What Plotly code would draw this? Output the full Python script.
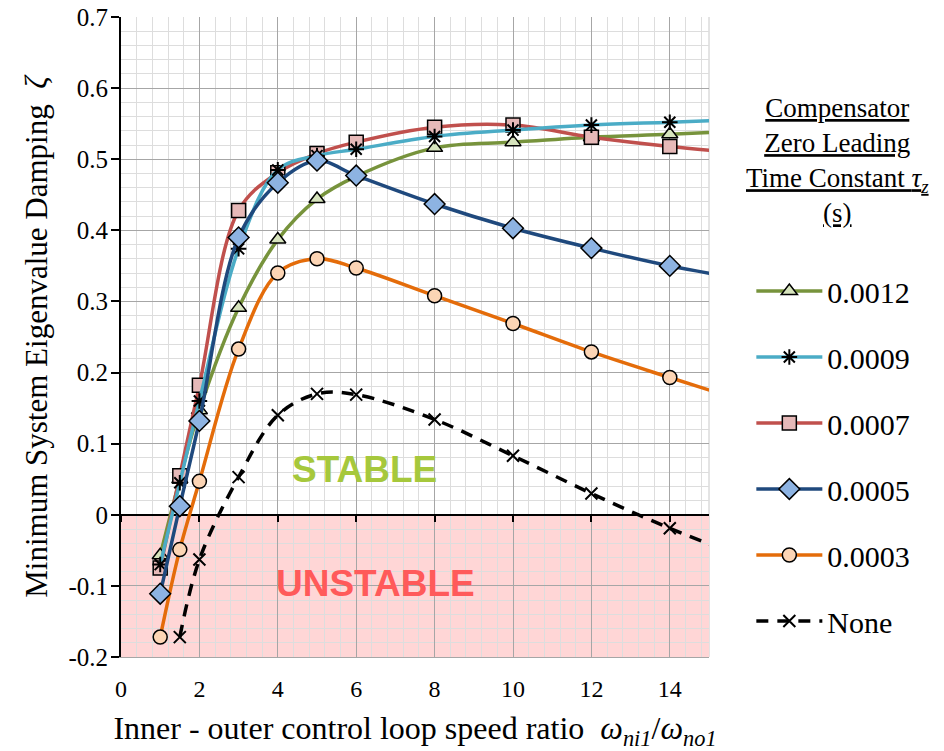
"""Minimum system damping vs inner/outer loop speed ratio, per compensator time constant."""

import plotly.graph_objects as go

# speed ratio samples (last point lies past the axis edge, only the line reaches it)
ratio = [1, 1.5, 2, 3, 4, 5, 6, 8, 10, 12, 14, 16]
ratio_none = [1.5, 2, 3, 4, 5, 6, 8, 10, 12, 14, 16]

zeta_0012 = [-0.057, 0.050, 0.147, 0.291, 0.387, 0.444, 0.476, 0.516, 0.524, 0.531, 0.535, 0.540]
zeta_0009 = [-0.070, 0.045, 0.160, 0.374, 0.485, 0.505, 0.514, 0.532, 0.541, 0.548, 0.552, 0.556]
zeta_0007 = [-0.075, 0.055, 0.182, 0.428, 0.481, 0.508, 0.524, 0.545, 0.548, 0.531, 0.518, 0.508]
zeta_0005 = [-0.111, 0.012, 0.132, 0.390, 0.467, 0.498, 0.477, 0.437, 0.403, 0.375, 0.350, 0.330]
zeta_0003 = [-0.172, -0.049, 0.047, 0.233, 0.340, 0.360, 0.347, 0.308, 0.269, 0.229, 0.193, 0.158]
zeta_none = [-0.172, -0.063, 0.053, 0.140, 0.170, 0.169, 0.134, 0.083, 0.030, -0.019, -0.062]

x_range = [0, 15]
y_range = [-0.2, 0.7]
x_ticks = [0, 2, 4, 6, 8, 10, 12, 14]
y_ticks = [0.7, 0.6, 0.5, 0.4, 0.3, 0.2, 0.1, 0, -0.1, -0.2]
y_ticktext = ["0.7", "0.6", "0.5", "0.4", "0.3", "0.2", "0.1", "0", "-0.1", "-0.2"]

SERIF = "Liberation Serif, Times New Roman, serif"
SANS = "Liberation Sans, Arial, sans-serif"

series = [
    # name, x, y, line colour, symbol, marker fill, marker size, dash, legend rank
    ("0.0003", ratio, zeta_0003, "#E46C0A", "circle", "#FCD5B5", 14, "solid", 5),
    ("0.0012", ratio, zeta_0012, "#77933C", "triangle-up", "#D7E4BD", 14, "solid", 1),
    ("0.0007", ratio, zeta_0007, "#C0504D", "square", "#E6B9B8", 14, "solid", 3),
    ("0.0009", ratio, zeta_0009, "#4BACC6", "asterisk-open", "black", 13, "solid", 2),
    ("0.0005", ratio, zeta_0005, "#1F497D", "diamond", "#8DB3E2", 16, "solid", 4),
    ("None", ratio_none, zeta_none, "black", "x-thin-open", "black", 12, "12px,9px", 6),
]

fig = go.Figure()

for name, xs, ys, color, symbol, fill, size, dash, rank in series:
    open_sym = symbol.endswith("-open")
    fig.add_trace(go.Scatter(
        x=xs,
        y=ys,
        mode="lines+markers",
        name=name,
        legendgroup=name,
        legendrank=rank,
        line=dict(color=color, width=3.5, shape="spline", dash=dash),
        marker=dict(
            symbol=symbol,
            size=size,
            color=fill,
            line=dict(color="black", width=2 if open_sym else 1.5),
        ),
    ))

# empty trace so the label axis (x2) is drawn
fig.add_trace(go.Scatter(x=[], y=[], xaxis="x2", showlegend=False, hoverinfo="skip"))

# unstable region
fig.add_shape(
    type="rect", xref="x", yref="y",
    x0=x_range[0], x1=x_range[1], y0=y_range[0], y1=0,
    fillcolor="#FFD6D6", line=dict(width=0), layer="below",
)
# right border of the plot area
fig.add_shape(
    type="line", xref="x domain", yref="y domain",
    x0=1, x1=1, y0=0, y1=1,
    line=dict(color="#C8C8C8", width=1), layer="below",
)

fig.add_annotation(x=6.2, y=0.063, text="<b>STABLE</b>", showarrow=False,
                   font=dict(family=SANS, size=37, color="#A6C83C"))
fig.add_annotation(x=6.5, y=-0.096, text="<b>UNSTABLE</b>", showarrow=False,
                   font=dict(family=SANS, size=37, color="#FF5A5A"))

# legend heading
fig.add_annotation(
    xref="paper", yref="paper", x=1.219, y=0.885, xanchor="center", yanchor="top",
    text="<u>Compensator</u><br><u>Zero Leading</u><br>"
         "<u>Time Constant <i>τ</i><sub><i>z</i></sub></u><br><u>(s)</u>",
    showarrow=False, align="center",
    font=dict(family=SERIF, size=27, color="black"),
)

zero_pos = (0 - y_range[0]) / (y_range[1] - y_range[0])

fig.update_layout(
    width=944,
    height=751,
    paper_bgcolor="white",
    plot_bgcolor="white",
    font=dict(family=SERIF, color="black", size=20),
    margin=dict(l=121, r=235, t=17, b=94, autoexpand=False),
    xaxis=dict(
        range=x_range,
        anchor="free",
        position=zero_pos,
        tickvals=x_ticks,
        showticklabels=False,
        ticks="outside",
        ticklen=6,
        tickwidth=1.5,
        tickcolor="black",
        showline=True,
        linecolor="black",
        linewidth=2,
        showgrid=True,
        gridcolor="#A6A6A6",
        gridwidth=1.3,
        minor=dict(dtick=0.4, tick0=0, showgrid=True, gridcolor="#DDDDDD", gridwidth=1),
        zeroline=False,
        automargin=False,
        layer="below traces",
    ),
    xaxis2=dict(
        range=x_range,
        overlaying="x",
        anchor="y",
        side="bottom",
        tickvals=x_ticks,
        tickfont=dict(family=SERIF, size=24),
        ticks="",
        ticklabelstandoff=10,
        showgrid=False,
        zeroline=False,
        showline=True,
        linecolor="#A6A6A6",
        linewidth=1.3,
        automargin=False,
        title=dict(
            text="Inner - outer control loop speed ratio  "
                 "<i>ω</i><sub><i>ni1</i></sub>/<i>ω</i><sub><i>no1</i></sub>",
            font=dict(family=SERIF, size=32),
            standoff=16,
        ),
    ),
    yaxis=dict(
        range=y_range,
        tickvals=y_ticks,
        ticktext=y_ticktext,
        tickfont=dict(family=SERIF, size=25),
        ticks="outside",
        ticklen=8,
        tickwidth=1.5,
        tickcolor="black",
        ticklabelstandoff=-2,
        ticklabeloverflow="allow",
        showline=True,
        linecolor="black",
        linewidth=2,
        showgrid=True,
        gridcolor="#A6A6A6",
        gridwidth=1.3,
        minor=dict(dtick=0.02, tick0=0, showgrid=True, gridcolor="#DDDDDD", gridwidth=1),
        zeroline=False,
        automargin=False,
        layer="below traces",
        title=dict(
            text="Minimum System Eigenvalue Damping  <i>ζ</i>",
            font=dict(family=SERIF, size=31),
            standoff=12,
        ),
    ),
    legend=dict(
        x=1.072,
        y=0.6125,
        xanchor="left",
        yanchor="top",
        font=dict(family=SERIF, size=30),
        bgcolor="rgba(0,0,0,0)",
        tracegroupgap=24,
        itemwidth=66,
    ),
    showlegend=True,
)

# drop the default 8px page margin so the figure fills the window exactly
fig.write_html(
    "out.html",
    config={"displayModeBar": False},
    post_script="document.body.style.margin = '0px';",
)
